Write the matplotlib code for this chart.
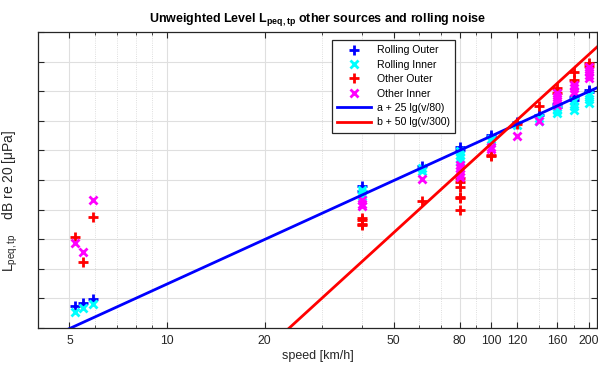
import numpy as np
import matplotlib
matplotlib.use("Agg")
import matplotlib.pyplot as plt
from matplotlib.ticker import FixedLocator, NullFormatter, FixedFormatter

plt.rcParams['font.family'] = ['Liberation Sans', 'DejaVu Sans']
plt.rcParams['mathtext.default'] = 'regular'

# ---- data ----
ro_v = [5.2, 5.5, 5.9, 40, 40, 61, 80, 80, 100, 100, 120, 140, 160, 160, 180, 180, 200, 200]
ro_L = [43.7, 44.2, 44.9, 64.0, 63.2, 67.3, 70.6, 70.0, 72.6, 72.2, 74.8, 76.0, 77.3, 77.8, 79.0, 78.5, 80.2, 79.8]

ri_v = [5.2, 5.5, 5.9, 40, 40, 40, 61, 61, 80, 80, 80, 80, 100, 100, 120, 140, 140, 160, 160, 160, 180, 180, 180, 200, 200, 200]
ri_L = [42.7, 43.4, 44.0, 63.3, 62.8, 62.3, 67.0, 66.6, 69.9, 69.3, 68.7, 68.2, 72.0, 71.6, 74.3, 75.5, 75.0, 76.8, 76.3, 77.0, 78.4, 77.5, 76.8, 79.4, 78.6, 78.0]

oo_v = [5.2, 5.5, 5.9, 40, 40, 40, 40, 61, 80, 80, 80, 80, 80, 80, 100, 100, 120, 140, 160, 160, 180, 180, 200, 200]
oo_L = [55.4, 51.1, 58.8, 58.6, 58.2, 57.6, 57.4, 61.5, 65.3, 64.7, 63.8, 62.2, 62.0, 59.9, 69.2, 69.0, 74.5, 77.5, 80.5, 79.7, 83.2, 81.9, 84.8, 84.2]

oi_v = [5.2, 5.5, 5.9, 40, 40, 40, 61, 80, 80, 80, 80, 80, 100, 100, 120, 140, 160, 160, 160, 160, 180, 180, 180, 200, 200, 200, 200]
oi_L = [54.4, 52.8, 61.6, 61.6, 61.0, 60.6, 65.2, 67.5, 67.0, 66.5, 66.0, 65.5, 70.6, 70.2, 72.4, 75.0, 79.7, 79.0, 78.3, 77.6, 81.0, 80.5, 79.9, 84.1, 83.4, 82.8, 82.2]

a_const = 70.0
b_const = 95.0

xtick_vals = [5, 10, 20, 50, 80, 100, 120, 160, 200]
xtick_labels = ['5', '10', '20', '50', '80', '100', '120', '160', '200']
xminor_vals = [6, 7, 8, 9, 30, 40, 60, 70, 90, 140, 180]

xlim = (4, 212)
ylim = (40, 90)

# ---- figure ----
fig = plt.figure(figsize=(5.98, 3.67), dpi=100)
ax = fig.add_axes([38/598, 39/367, 559/598, 296/367])

ms = 6.5
mew = 2
ax.plot(ro_v, ro_L, linestyle='none', marker='+', color=(0, 0, 1), ms=ms, mew=mew, label='Rolling Outer')
ax.plot(ri_v, ri_L, linestyle='none', marker='x', color=(0, 1, 1), ms=ms-1, mew=mew, label='Rolling Inner')
ax.plot(oo_v, oo_L, linestyle='none', marker='+', color=(1, 0, 0), ms=ms, mew=mew, label='Other Outer')
ax.plot(oi_v, oi_L, linestyle='none', marker='x', color=(1, 0, 1), ms=ms-1, mew=mew, label='Other Inner')

v = np.logspace(np.log10(xlim[0]), np.log10(xlim[1]), 200)
ax.plot(v, a_const + 25*np.log10(v/80), color=(0, 0, 1), lw=2, label='a + 25 lg(v/80)')
ax.plot(v, b_const + 50*np.log10(v/300), color=(1, 0, 0), lw=2, label='b + 50 lg(v/300)')

ax.set_xscale('log')
ax.set_xlim(*xlim)
ax.set_ylim(*ylim)
ax.xaxis.set_major_locator(FixedLocator(xtick_vals))
ax.xaxis.set_major_formatter(FixedFormatter(xtick_labels))
ax.xaxis.set_minor_locator(FixedLocator(xminor_vals))
ax.xaxis.set_minor_formatter(NullFormatter())
ax.set_yticks(np.arange(40, 91, 5))
ax.set_yticklabels([])

ax.grid(True, which='major', color='#dfdfdf', lw=0.8, ls='-')
ax.grid(True, which='minor', axis='x', color='#d4d4d4', lw=0.6, ls=':')
ax.set_axisbelow(True)

ax.tick_params(which='both', direction='in', top=True, right=True, labelsize=8.8, colors='#262626', pad=5)
ax.tick_params(which='major', length=4, width=0.8)
ax.tick_params(which='minor', length=2.5, width=0.6)
for s in ax.spines.values():
    s.set_color('#262626')
    s.set_linewidth(0.9)

ax.set_xlabel('speed [km/h]', fontsize=9, color='#262626', labelpad=2)
ax.set_ylabel('L$_{peq,tp}$    dB re 20 [\u03bcPa]', fontsize=10, color='#262626')
ax.yaxis.set_label_coords(-0.032, 0.43)
ax.set_title('Unweighted Level L$_{peq,tp}$ other sources and rolling noise', fontsize=9, fontweight='bold', pad=7)

leg = ax.legend(loc='upper left', bbox_to_anchor=((332-38)/559, (328-40)/296), borderaxespad=0,
                fontsize=7.6, frameon=True, fancybox=False, framealpha=1, edgecolor='#262626',
                handlelength=3.2, handletextpad=0.55, labelspacing=0.42, borderpad=0.5)
leg.get_frame().set_linewidth(0.9)

fig.savefig('out.png', dpi=100)
